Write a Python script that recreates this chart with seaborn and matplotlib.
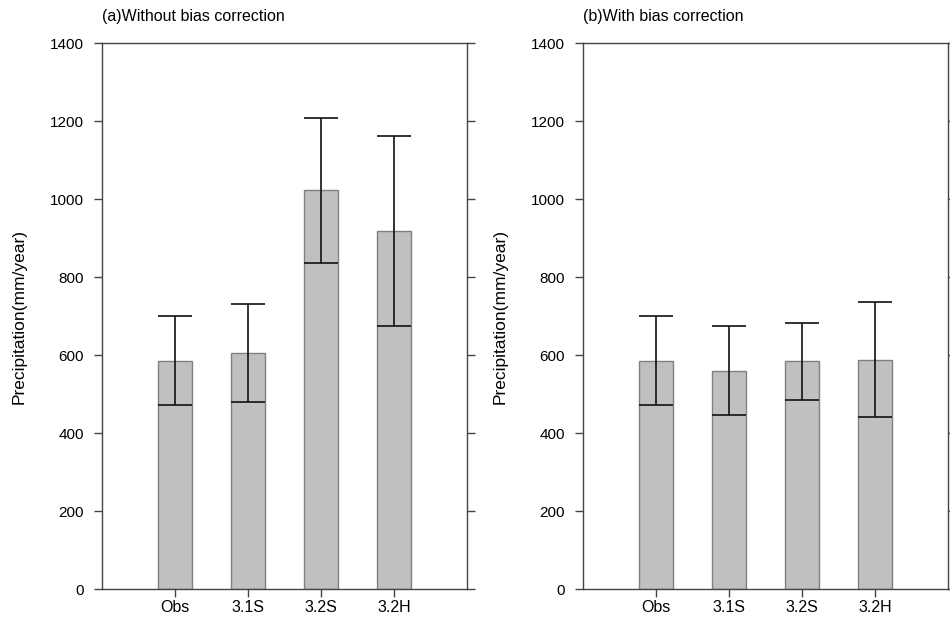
import matplotlib as mpl
mpl.use('Agg')
import matplotlib.pyplot as plt
import seaborn as sb
import pandas as pd

# data
categories = ['Obs', '3.1S', '3.2S', '3.2H']
mean_raw = [585, 605, 1022, 918]
sd_raw = [114, 126, 186, 243]
mean_corr = [585, 560, 584, 588]
sd_corr = [114, 115, 99, 147]
titles = ['(a)Without bias correction', '(b)With bias correction']
yticks = [0, 200, 400, 600, 800, 1000, 1200, 1400]

sb.set_style('white')
plt.rcParams['font.family'] = ['Liberation Sans', 'DejaVu Sans']
plt.rcParams['text.color'] = 'black'
plt.rcParams['axes.labelcolor'] = 'black'


def drawPanel(ax, means, sds, title):
    df = pd.DataFrame({'cat': categories, 'val': means})
    sb.barplot(data=df, x='cat', y='val', ax=ax, color='#c0c0c0',
               edgecolor='#808080', linewidth=1, width=0.47,
               saturation=1, errorbar=None)
    ax.errorbar(range(len(categories)), means, yerr=sds, fmt='none',
                ecolor='#111111', elinewidth=1.2, capsize=12, capthick=1.2)
    ax.set_xlim(-1, 4)
    ax.set_ylim(0, 1400)
    ax.set_yticks(yticks)
    ax.set_xlabel('')
    ax.set_ylabel('Precipitation(mm/year)', fontsize=12.5, labelpad=17)
    ax.tick_params(axis='y', which='both', direction='out', length=6,
                   width=1, color='#444444', labelcolor='black', left=True,
                   right=True, labelright=False, labelsize=11, pad=7)
    ax.tick_params(axis='x', direction='out', length=6, width=1,
                   color='#444444', labelcolor='black', bottom=True,
                   labelsize=11.5, pad=2)
    for s in ax.spines.values():
        s.set_color('#444444')
        s.set_linewidth(1)
    ax.text(0.0, 1.048, title, transform=ax.transAxes, ha='left',
            va='center', fontsize=11.5)


fig = plt.figure(figsize=(9.5, 6.26), dpi=100)
ax1 = fig.add_axes([0.1074, 0.0591, 0.3842, 0.8722])
ax2 = fig.add_axes([0.6137, 0.0591, 0.3842, 0.8722])
drawPanel(ax1, mean_raw, sd_raw, titles[0])
drawPanel(ax2, mean_corr, sd_corr, titles[1])

fig.savefig('out.png', dpi=100)
